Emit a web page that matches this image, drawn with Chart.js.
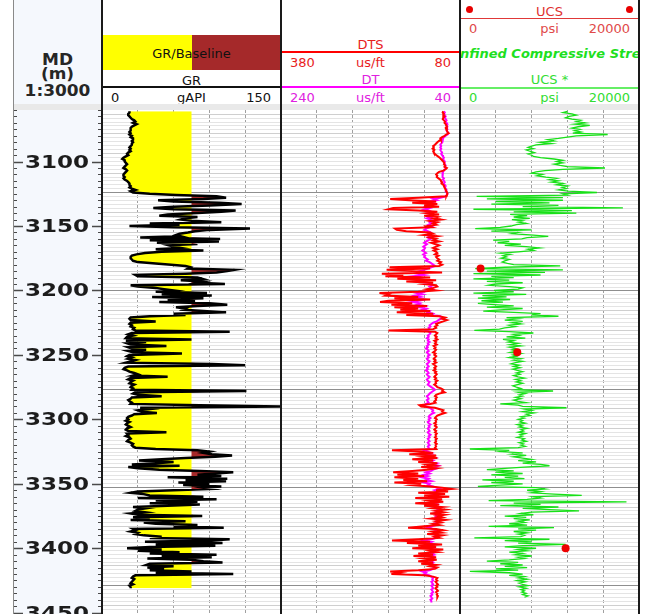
<!DOCTYPE html>
<html>
<head>
<meta charset="utf-8">
<title>Well log – GR, sonic, UCS</title>
<script src="https://cdn.jsdelivr.net/npm/chart.js@4.4.1/dist/chart.umd.min.js"></script>
<style>
  html, body { margin:0; padding:0; background:#fff; }
  body { width:648px; height:614px; position:relative; overflow:hidden; font-family:"DejaVu Sans", Verdana, sans-serif; }
  .a { position:absolute; }
  .t { position:absolute; font-size:13px; line-height:15px; white-space:nowrap; }
  .c { text-align:center; }
  .r { text-align:right; }
  .line { position:absolute; z-index:5; }
  canvas { position:absolute; top:110px; }
  .dh { position:absolute; left:13px; width:89px; text-align:center; font-weight:bold; font-size:15px; line-height:15px; color:#262626; transform:scaleX(1.13); }
</style>
</head>
<body>
<!-- depth column background and header band -->
<div class="a" style="left:13px;top:0;width:89px;height:614px;background:#f5f8fd"></div>
<div class="a" style="left:13px;top:104px;width:627px;height:6px;background:#e9e9e9;z-index:2"></div>
<div class="line" style="left:13px;top:0;width:1px;height:614px;background:#8a8a8a"></div>

<!-- depth header -->
<div class="dh" style="top:53px">MD</div>
<div class="dh" style="top:67px">(m)</div>
<div class="dh" style="top:84px">1:3000</div>

<!-- GR header -->
<div class="a" style="left:103px;top:35px;width:89px;height:35px;background:#ffff00"></div>
<div class="a" style="left:192px;top:35px;width:89px;height:35px;background:#a5292a"></div>
<div class="t c" style="left:102px;width:179px;top:46px;color:#111">GR/Baseline</div>
<div class="t c" style="left:102px;width:179px;top:73px;color:#111">GR</div>
<div class="a" style="left:103px;top:86px;width:178px;height:2px;background:#111"></div>
<div class="t" style="left:111px;top:90px;color:#111">0</div>
<div class="t c" style="left:102px;width:179px;top:90px;color:#111">gAPI</div>
<div class="t r" style="left:102px;width:169px;top:90px;color:#111">150</div>

<!-- sonic header -->
<div class="t c" style="left:281px;width:179px;top:37px;color:#e8201c">DTS</div>
<div class="a" style="left:281px;top:51px;width:179px;height:2px;background:#ff0000"></div>
<div class="t" style="left:290px;top:55px;color:#e8201c">380</div>
<div class="t c" style="left:281px;width:179px;top:55px;color:#e8201c">us/ft</div>
<div class="t r" style="left:281px;width:170px;top:55px;color:#e8201c">80</div>
<div class="t c" style="left:281px;width:179px;top:72px;color:#e020e0">DT</div>
<div class="a" style="left:281px;top:86px;width:179px;height:2px;background:#ff00ff"></div>
<div class="t" style="left:290px;top:90px;color:#e020e0">240</div>
<div class="t c" style="left:281px;width:179px;top:90px;color:#e020e0">us/ft</div>
<div class="t r" style="left:281px;width:170px;top:90px;color:#e020e0">40</div>

<!-- UCS header -->
<div class="a" style="left:466px;top:6px;width:7px;height:7px;border-radius:50%;background:#e80000"></div>
<div class="a" style="left:626px;top:6px;width:7px;height:7px;border-radius:50%;background:#e80000"></div>
<div class="t c" style="left:460px;width:179px;top:4px;color:#e03030">UCS</div>
<div class="a" style="left:461px;top:18px;width:178px;height:1px;background:#e03838"></div>
<div class="t" style="left:469px;top:21px;color:#e04a4a">0</div>
<div class="t c" style="left:460px;width:179px;top:21px;color:#e04a4a">psi</div>
<div class="t r" style="left:460px;width:170px;top:21px;color:#e04a4a">20000</div>
<div class="a" style="left:461px;top:45px;width:178px;height:18px;overflow:hidden">
  <div class="t c" style="left:-112px;width:400px;top:1px;font-weight:bold;font-style:italic;color:#1ee01e">Unconfined Compressive Strength</div>
</div>
<div class="t c" style="left:460px;width:179px;top:72px;color:#33dd33">UCS *</div>
<div class="a" style="left:461px;top:87px;width:178px;height:2px;background:#66ee66"></div>
<div class="t" style="left:469px;top:90px;color:#33dd33">0</div>
<div class="t c" style="left:460px;width:179px;top:90px;color:#33dd33">psi</div>
<div class="t r" style="left:460px;width:170px;top:90px;color:#33dd33">20000</div>

<!-- plot tracks -->
<canvas id="cDepth" width="89" height="504" style="left:13px;width:89px;height:504px"></canvas>
<canvas id="cGR" width="179" height="504" style="left:102px;width:179px;height:504px"></canvas>
<canvas id="cSonic" width="179" height="504" style="left:281px;width:179px;height:504px"></canvas>
<canvas id="cUCS" width="179" height="504" style="left:460px;width:179px;height:504px"></canvas>

<!-- track borders -->
<div class="line" style="left:101px;top:0;width:2px;height:614px;background:#1a1a1a"></div>
<div class="line" style="left:280px;top:0;width:2px;height:614px;background:#1a1a1a"></div>
<div class="line" style="left:459px;top:0;width:2px;height:614px;background:#1a1a1a"></div>
<div class="line" style="left:638px;top:0;width:2px;height:614px;background:#1a1a1a"></div>

<script>
// Log samples every 1 m starting at DEPTH_TOP (measured depth, m)
const DEPTH_TOP = 3061;
const DEPTH_MIN = 3060, DEPTH_MAX = 3451;
const GR_BASELINE = 75;

// Gamma ray, gAPI (3061 – 3431 m)
const grApi = [
  23,23,22,22,23,24,25,27,28,26,
  29,27,25,24,24,24,23,24,23,25,
  24,26,26,25,26,25,25,24,23,24,
  23,24,22,21,22,20,18,17,19,19,
  20,21,20,19,18,20,21,20,19,18,
  18,19,18,19,21,22,23,23,24,23,
  25,28,24,26,40,62,96,104,85,47,
  60,98,117,90,60,43,60,112,100,80,
  55,48,80,70,66,75,100,40,65,23,
  60,124,90,78,72,65,62,66,32,99,
  40,98,46,80,56,60,66,45,85,50,
  36,29,25,24,24,25,26,30,45,58,
  70,74,72,111,105,96,70,28,30,80,
  84,66,85,80,103,24,30,45,52,60,
  45,88,50,92,42,85,55,78,48,90,
  105,80,62,70,68,85,104,60,70,40,
  24,23,24,45,24,23,25,24,27,26,
  28,107,25,22,26,21,20,75,20,37,
  21,24,54,22,25,37,22,26,67,23,
  21,25,22,28,24,20,92,120,22,19,
  18,21,23,27,30,26,55,24,22,26,
  24,23,27,25,24,26,25,121,28,26,
  30,50,25,24,22,23,25,24,82,150,
  32,40,30,33,46,27,25,22,21,22,
  20,23,21,20,22,24,21,20,22,54,
  21,22,20,23,24,22,21,24,26,25,
  26,28,45,80,90,85,92,109,95,70,
  50,31,60,45,25,65,22,30,48,82,
  110,95,80,100,55,105,70,104,64,90,
  68,100,85,91,60,30,24,35,40,85,
  30,96,45,80,40,82,55,26,37,30,
  28,36,24,30,84,26,40,24,70,35,
  45,80,60,102,26,28,24,30,28,35,
  50,40,107,92,36,101,45,95,40,21,
  50,30,65,40,96,50,92,38,75,85,
  101,40,37,60,38,52,40,75,45,110,
  28,26,25,27,26,25,24,26,23,24,24
];

// Shear slowness DTS, us/ft (3061 – 3438 m)
const dtsUsFt = [
  108,109,107,108,106,108,109,107,105,106,
  104,103,102,104,103,102,101,99,103,106,
  110,113,112,115,118,120,122,125,124,126,
  123,125,124,122,120,117,114,112,110,108,
  106,107,105,106,102,104,108,115,118,120,
  118,119,116,113,112,110,111,108,107,106,
  105,104,103,102,101,102,103,150,197,165,
  120,160,118,140,115,192,200,150,118,135,
  115,140,118,125,112,130,118,125,120,135,
  128,189,186,170,130,125,140,118,130,120,
  125,115,128,122,115,120,125,118,124,120,
  118,122,116,120,118,115,118,112,115,110,
  115,198,130,203,160,110,211,175,205,130,
  185,120,170,125,140,120,118,125,135,120,
  150,215,200,205,150,190,130,200,214,160,
  195,135,190,150,180,130,186,125,170,115,
  105,110,102,108,115,120,118,122,120,125,
  200,122,118,120,122,119,121,118,123,120,
  122,119,124,121,123,120,122,125,121,123,
  120,122,124,121,123,120,125,122,120,123,
  121,124,120,122,119,121,123,120,122,118,
  121,120,123,120,118,112,108,110,106,115,
  120,122,119,121,120,123,121,130,148,145,
  122,115,108,110,105,112,118,120,122,119,
  121,120,123,120,122,119,121,123,120,122,
  119,121,120,122,119,121,120,122,119,121,
  120,122,120,194,150,125,165,120,140,118,
  160,125,150,118,135,122,145,120,135,160,
  192,150,185,140,190,150,175,135,190,145,
  160,130,110,94,120,100,150,105,140,98,
  155,110,130,108,155,115,140,110,125,105,
  120,108,130,106,118,110,128,105,120,112,
  125,115,140,167,120,108,125,112,135,110,
  122,115,150,194,130,169,110,150,120,160,
  108,130,118,150,125,158,120,140,119,150,
  125,145,120,130,118,122,150,197,180,195,
  140,125,118,120,118,121,119,117,120,118,
  121,119,117,120,118,119,117,118
];

// Compressional slowness DT, us/ft (3061 – 3442 m)
const dtUsFt = [
  58,57,58,57,56,57,56,55,56,55,
  54,55,54,55,54,55,54,53,54,56,
  58,59,60,59,60,61,62,61,62,61,
  62,61,60,61,60,59,58,59,58,57,
  58,57,56,57,56,57,58,59,60,59,
  60,59,58,59,58,57,58,57,56,57,
  56,55,56,55,54,55,56,62,70,66,
  74,70,76,72,78,74,80,75,72,76,
  70,74,72,77,73,70,74,72,75,71,
  74,78,80,76,73,75,77,74,76,73,
  75,78,80,77,79,81,79,80,82,80,
  78,81,79,80,78,76,78,74,72,70,
  68,72,76,80,85,78,88,80,92,84,
  95,80,88,76,72,70,74,72,70,76,
  80,88,82,90,84,92,80,86,94,85,
  88,80,86,78,82,74,76,70,72,62,
  60,62,64,66,70,72,74,73,75,74,
  78,75,73,74,76,75,77,75,76,74,
  76,75,77,76,78,76,75,77,76,74,
  76,75,77,76,74,75,77,76,75,77,
  76,78,76,75,77,76,74,75,77,76,
  74,75,76,74,72,70,68,70,72,74,
  75,77,76,75,77,76,75,78,80,78,
  74,72,70,71,69,72,74,75,73,75,
  74,76,75,73,75,74,76,75,74,76,
  75,73,75,74,76,75,74,76,75,74,
  76,75,74,80,76,72,78,70,74,68,
  75,70,73,66,70,64,68,66,70,72,
  78,74,80,76,82,75,78,72,80,74,
  76,70,66,62,68,64,70,66,72,64,
  70,66,68,63,70,66,72,68,66,63,
  67,64,68,65,67,64,68,65,67,66,
  69,67,72,76,70,66,69,67,70,66,
  68,67,72,80,72,76,68,74,70,74,
  67,70,68,72,69,74,70,72,69,73,
  70,72,69,71,68,70,74,82,78,80,
  74,72,70,71,70,72,71,70,72,71,
  70,72,71,70,72,71,73,72,71,73,
  72,72
];

// Unconfined compressive strength, psi (3061 – 3438 m)
const ucsPsi = [
  12000,11500,12500,13000,12200,11800,12500,13500,13000,14000,
  12800,14500,13200,12500,13400,12800,13500,12600,16500,13000,
  12000,11000,9800,10500,9000,10200,8500,8000,7600,8200,
  7400,7800,8300,7600,8000,8200,9000,10500,11500,10800,
  11500,10500,11200,12000,16200,11500,9500,8500,8000,9200,
  8600,9600,10800,10000,11000,10200,11500,10800,12000,11400,
  11900,11000,12100,15300,11500,12000,1860,11500,3000,11500,
  4000,10000,3500,11000,7000,18200,1500,12500,6000,13000,
  5600,7500,6000,7800,5800,7000,6500,7400,6300,5700,
  4500,1700,8000,3500,6500,5800,8200,9860,7500,6900,
  3700,5500,4200,6800,5000,7400,8900,7600,8200,6500,
  4500,5600,4800,5200,4600,5500,5000,4700,5300,6000,
  11200,5000,1700,11500,3000,9500,1500,9000,3500,6000,
  1500,5500,3000,7000,4000,3200,5500,7000,6500,3800,
  6000,1500,7400,2500,5200,2000,5600,2400,4800,2000,
  3800,6000,3000,7000,4500,2600,6000,9000,8000,11000,
  5200,6500,5000,7000,5800,6800,5500,6200,5000,4400,
  1600,5500,8200,6000,6600,5200,7300,4800,6000,5400,
  6500,5600,6800,5500,6200,5800,6400,5600,6800,5900,
  6300,5500,6800,6000,7000,6200,5700,6600,6000,6700,
  5900,6400,7000,6300,6700,6000,6500,7200,6200,6800,
  6300,7000,6400,5900,6300,6800,6200,10400,6500,7300,
  6600,7000,6200,6800,6000,6500,7400,4500,6500,7000,
  11900,7200,8000,7000,8300,7400,7800,6800,7200,6500,
  7000,6700,7300,6400,7000,6600,7500,6800,7100,6500,
  7300,6700,7000,6400,7200,6900,7400,6600,7100,6800,
  7300,6500,1100,5500,4500,7000,5800,7400,6000,7000,
  8000,6500,8500,7000,9000,10000,7200,5000,3000,6000,
  4000,7000,3500,6500,5000,7200,2500,6000,3500,7000,
  4500,2000,8500,9500,7500,9000,8000,10500,13600,8200,
  9000,7500,3200,18600,6000,9000,4500,11000,7000,10000,
  13300,8000,6800,8200,5000,7400,6000,7800,6500,7200,
  5500,7500,3200,10500,6500,8500,6000,7500,6500,7200,
  6800,1600,10000,5000,8000,6500,11800,7000,5000,8500,
  6500,7500,5500,7000,6200,8000,6500,7200,5500,3000,
  6500,4500,7000,5000,7500,4000,6500,1100,5500,7000,
  5500,7200,6500,7500,6400,7300,6600,7000,7600,6600,
  7400,6800,7200,6900,7400,7000,7600,7200
];

// Core UCS measurements
const coreDepthM = [3183, 3248, 3400];
const corePsi = [2300, 6400, 11800];

// ---------- helpers ----------
const FT = 0.3048;
const toPoints = (vals, f) => vals.map((v, i) => ({ x: f ? f(v) : v, y: DEPTH_TOP + i }));

function depthAxis() {
  return { type: 'linear', reverse: true, min: DEPTH_MIN, max: DEPTH_MAX, display: false };
}
// horizontal grid in feet: 10 ft lines, heavier every 50 ft and 250 ft
function feetGridAxis() {
  return {
    type: 'linear', position: 'left', reverse: true,
    min: DEPTH_MIN / FT, max: DEPTH_MAX / FT,
    ticks: { display: false, stepSize: 10 },
    grid: {
      drawTicks: false, lineWidth: 1,
      color: (c) => {
        const v = c.tick.value, r = Math.round(v);
        if (Math.abs(v - r) > 1e-6) return 'rgba(0,0,0,0)';
        if (r % 250 === 0) return '#8e8e8e';
        if (r % 50 === 0) return '#cfcfcf';
        return '#e4e4e4';
      }
    },
    border: { display: false }
  };
}
function valueAxis(min, max, step, reverse, show) {
  return {
    type: 'linear', position: 'top', min, max, reverse, display: show,
    ticks: { display: false, stepSize: step },
    grid: {
      drawTicks: false, lineWidth: 1,
      color: (c) => (c.tick.value <= min || c.tick.value >= max) ? 'rgba(0,0,0,0)' : '#a0a0a0'
    },
    border: { display: false, dash: [3, 2] }
  };
}
function baseOptions(scales) {
  return {
    indexAxis: 'y', responsive: false, animation: false, events: [],
    layout: { padding: 0, autoPadding: false },
    plugins: { legend: { display: false }, tooltip: { enabled: false } },
    elements: { point: { radius: 0 }, line: { tension: 0 } },
    scales
  };
}

// ---------- depth track ----------
const depthTicks = {
  id: 'depthTicks',
  afterDraw(chart) {
    const { ctx, chartArea: a } = chart;
    const y = chart.scales.y;
    ctx.save();
    ctx.strokeStyle = '#4a4a4a';
    ctx.fillStyle = '#1c1c1c';
    ctx.font = 'bold 18px "DejaVu Sans"';
    ctx.textAlign = 'center';
    ctx.textBaseline = 'middle';
    for (let d = 3060; d <= 3450; d += 5) {
      const py = Math.round(y.getPixelForValue(d)) + 0.5;
      const major = d % 50 === 0;
      const len = major ? 10 : 4;
      ctx.lineWidth = major ? 1.5 : 1;
      ctx.beginPath();
      ctx.moveTo(a.left, py); ctx.lineTo(a.left + len, py);
      ctx.moveTo(a.right - len, py); ctx.lineTo(a.right, py);
      ctx.stroke();
      if (major) {
        ctx.save();
        ctx.translate((a.left + a.right) / 2 - 0.5, py + 1);
        ctx.scale(1.28, 1);
        ctx.fillText(String(d), 0, 0);
        ctx.restore();
      }
    }
    ctx.restore();
  }
};
new Chart(document.getElementById('cDepth'), {
  type: 'line',
  data: { datasets: [] },
  options: baseOptions({ x: { type: 'linear', display: false, min: 0, max: 1 }, y: depthAxis() }),
  plugins: [depthTicks]
});

// ---------- GR track ----------
new Chart(document.getElementById('cGR'), {
  type: 'line',
  data: {
    datasets: [
      { data: toPoints(grApi), borderColor: '#000', borderWidth: 2.5, fill: false, order: 0, xAxisID: 'x', yAxisID: 'y' },
      { data: toPoints(grApi, v => Math.max(v, GR_BASELINE)), borderWidth: 0, borderColor: 'rgba(0,0,0,0)',
        backgroundColor: '#a5292a', fill: { value: GR_BASELINE }, order: 1, xAxisID: 'x', yAxisID: 'y' },
      { data: toPoints(grApi, v => Math.min(v, GR_BASELINE)), borderWidth: 0, borderColor: 'rgba(0,0,0,0)',
        backgroundColor: '#ffff00', fill: { value: GR_BASELINE }, order: 2, xAxisID: 'x', yAxisID: 'y' }
    ]
  },
  options: baseOptions({ x: valueAxis(0, 150, 30, false, true), y: depthAxis(), yft: feetGridAxis() })
});

// ---------- sonic track ----------
new Chart(document.getElementById('cSonic'), {
  type: 'line',
  data: {
    datasets: [
      { data: toPoints(dtsUsFt), borderColor: '#ff0000', borderWidth: 2, fill: false, order: 0, xAxisID: 'xs', yAxisID: 'y' },
      { data: toPoints(dtUsFt), borderColor: '#ff00ff', borderWidth: 2, fill: false, order: 1, xAxisID: 'x', yAxisID: 'y' }
    ]
  },
  options: baseOptions({
    x: valueAxis(40, 240, 40, true, true),
    xs: { type: 'linear', position: 'top', min: 80, max: 380, reverse: true, display: false },
    y: depthAxis(), yft: feetGridAxis()
  })
});

// ---------- UCS track ----------
new Chart(document.getElementById('cUCS'), {
  type: 'line',
  data: {
    datasets: [
      { data: coreDepthM.map((d, i) => ({ x: corePsi[i], y: d })), showLine: false, pointRadius: 4,
        pointBackgroundColor: '#ee0000', pointBorderWidth: 0, order: 0, xAxisID: 'x', yAxisID: 'y' },
      { data: toPoints(ucsPsi), borderColor: '#18e018', borderWidth: 1.3, fill: false, order: 1, xAxisID: 'x', yAxisID: 'y' }
    ]
  },
  options: baseOptions({ x: valueAxis(0, 20000, 4000, false, true), y: depthAxis(), yft: feetGridAxis() })
});
</script>
</body>
</html>
